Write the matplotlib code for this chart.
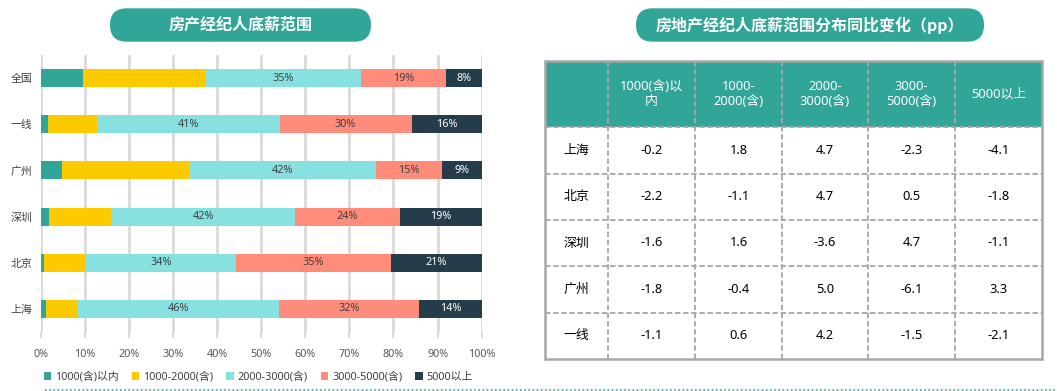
import matplotlib
matplotlib.use('Agg')
import matplotlib.pyplot as plt
from matplotlib.patches import FancyBboxPatch, Rectangle

plt.rcParams['font.family'] = ['Noto Sans', 'Noto Sans CJK SC', 'DejaVu Sans']

# Bar chart data (share of agents, %), top row first
cities = ['全国', '一线', '广州', '深圳', '北京', '上海']
ranges = ['1000(含)以内', '1000-2000(含)', '2000-3000(含)', '3000-5000(含)', '5000以上']
s_1000 = [9.6, 1.7, 4.9, 1.9, 0.7, 1.2]
s_2000 = [27.7, 11.1, 28.9, 14.1, 9.5, 7.1]
s_3000 = [35.4, 41.4, 42.3, 41.7, 34.1, 45.8]
s_5000 = [19.2, 29.9, 14.9, 23.7, 35.1, 31.7]
s_over = [8.1, 15.9, 9.0, 18.6, 20.6, 14.2]

# Table data (yoy change, pp)
tbl_header = ['1000(含)以\n内', '1000-\n2000(含)', '2000-\n3000(含)', '3000-\n5000(含)', '5000以上']
tbl_rows = ['上海', '北京', '深圳', '广州', '一线']
tbl_sh = [-0.2, 1.8, 4.7, -2.3, -4.1]
tbl_bj = [-2.2, -1.1, 4.7, 0.5, -1.8]
tbl_sz = [-1.6, 1.6, -3.6, 4.7, -1.1]
tbl_gz = [-1.8, -0.4, 5.0, -6.1, 3.3]
tbl_yx = [-1.1, 0.6, 4.2, -1.5, -2.1]

colors = ['#31A597', '#FDCA00', '#87E1E0', '#FF8C7A', '#253C4B']
label_colors = [None, None, '#404040', '#404040', 'white']
teal = '#31A597'

W, H = 1057, 391
fig = plt.figure(figsize=(W / 100, H / 100), dpi=100)

# ---- stacked bar chart ----
ax = fig.add_axes([40.5 / W, 1 - 332 / H, (481.7 - 40.5) / W, (332 - 55) / H])
series = [s_1000, s_2000, s_3000, s_5000, s_over]
ypos = list(range(len(cities)))
left = [0.0] * len(cities)
for i, vals in enumerate(series):
    ax.barh(ypos, vals, left=left, height=0.39, color=colors[i], label=ranges[i], zorder=3)
    if label_colors[i] is not None:
        for y, l, v in zip(ypos, left, vals):
            ax.text(l + v / 2, y, f'{round(v)}%', ha='center', va='center',
                    fontsize=7.8, color=label_colors[i], zorder=4)
    left = [l + v for l, v in zip(left, vals)]

ax.set_xlim(0, 100)
ax.set_ylim(-0.5, len(cities) - 0.5)
ax.invert_yaxis()
ax.set_yticks(ypos)
ax.set_yticklabels(cities, fontsize=7.8, color='#404040')
ax.set_xticks(range(0, 101, 10))
ax.set_xticklabels([f'{t}%' for t in range(0, 101, 10)], fontsize=7.8, color='#595959')
ax.xaxis.grid(True, color='#D9D9D9', lw=2, zorder=0)
ax.tick_params(axis='y', length=0, pad=6)
ax.tick_params(axis='x', length=4, color='#D9D9D9', width=1.5, pad=8)
for sp in ax.spines.values():
    sp.set_visible(False)

handles, labels = ax.get_legend_handles_labels()
fig.legend(handles, labels, loc='center left', bbox_to_anchor=(34 / W, 1 - 377 / H),
           ncol=5, frameon=False, fontsize=7.8, handlelength=0.7, handleheight=0.7,
           handletextpad=0.35, columnspacing=1.2, labelcolor='#404040')

# ---- overlay in pixel coordinates for titles and table ----
ov = fig.add_axes([0, 0, 1, 1], zorder=5)
ov.set_xlim(0, W)
ov.set_ylim(H, 0)
ov.axis('off')

for x0, x1, txt in [(110, 371, '房产经纪人底薪范围'), (636, 984, '房地产经纪人底薪范围分布同比变化（pp）')]:
    ov.add_patch(FancyBboxPatch((x0, 8.3), x1 - x0, 33.4,
                                boxstyle='round,pad=0,rounding_size=16.7',
                                fc=teal, ec='none'))
    ov.text((x0 + x1) / 2, 25, txt, ha='center', va='center', fontsize=11.5,
            color='white', fontweight='bold', family=['Noto Sans CJK SC', 'DejaVu Sans'])

# table geometry
col_x = [545, 608, 695, 782, 868, 955, 1042]
row_y = [60.5, 127.3, 173.5, 220, 266, 312.7, 359]
ov.add_patch(Rectangle((col_x[0], row_y[0]), col_x[-1] - col_x[0], row_y[1] - row_y[0],
                       fc=teal, ec='none'))
gray = '#A6A6A6'
for x in col_x[1:-1]:
    ov.plot([x, x], [row_y[0], row_y[-1]], color=gray, lw=1.3, ls=(0, (3, 1.5)))
for y in row_y[1:-1]:
    ov.plot([col_x[0], col_x[-1]], [y, y], color=gray, lw=1.3, ls=(0, (3, 1.5)))
ov.add_patch(Rectangle((col_x[0], row_y[0]), col_x[-1] - col_x[0], row_y[-1] - row_y[0],
                       fc='none', ec=gray, lw=1.8))

for j, h in enumerate(tbl_header):
    cx = (col_x[j + 1] + col_x[j + 2]) / 2
    ov.text(cx, (row_y[0] + row_y[1]) / 2, h, ha='center', va='center',
            fontsize=9.3, color='white', linespacing=1.25)

tbl_vals = [tbl_sh, tbl_bj, tbl_sz, tbl_gz, tbl_yx]
for i, (name, vals) in enumerate(zip(tbl_rows, tbl_vals)):
    cy = (row_y[i + 1] + row_y[i + 2]) / 2
    ov.text((col_x[0] + col_x[1]) / 2, cy, name, ha='center', va='center',
            fontsize=9.3, color='black')
    for j, v in enumerate(vals):
        ov.text((col_x[j + 1] + col_x[j + 2]) / 2, cy, f'{v:.1f}', ha='center',
                va='center', fontsize=9.3, color='black')

# dotted divider at bottom
ov.plot([45, W], [390, 390], color=teal, lw=1.2, ls=(0, (1, 1.5)))

fig.savefig('out.png', dpi=100)
